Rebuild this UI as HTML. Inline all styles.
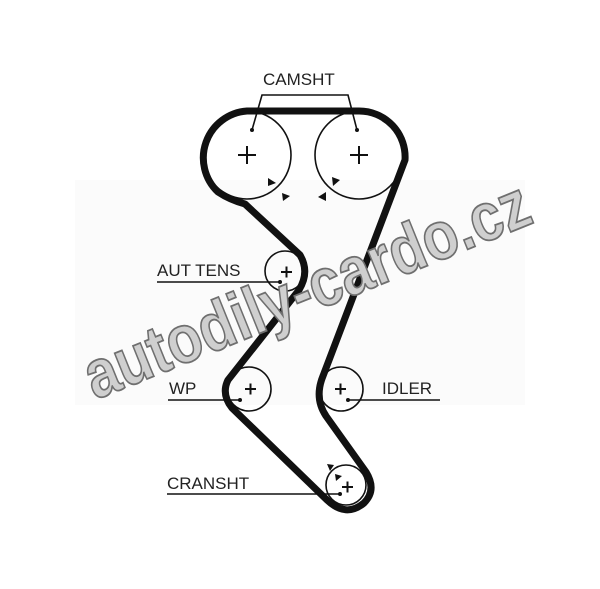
<!DOCTYPE html>
<html><head><meta charset="utf-8"><style>
html,body{margin:0;padding:0;background:#fff;}
svg{display:block;}
text{font-family:"Liberation Sans",Arial,sans-serif;}
</style></head><body>
<svg width="600" height="589" viewBox="0 0 600 589" xmlns="http://www.w3.org/2000/svg">
<rect x="75" y="180" width="450" height="225" fill="#fbfbfb"/>
<g fill="none" stroke="#111" stroke-width="1.6">
<circle cx="247" cy="155" r="44"/>
<circle cx="359" cy="155" r="44"/>
<circle cx="285" cy="271" r="20"/>
<circle cx="249" cy="389" r="22"/>
<circle cx="341" cy="389" r="22"/>
<circle cx="346" cy="485" r="20"/>
</g>
<path d="M247 111 L359 111 A46 46 0 0 1 405 160 L323 376 Q314 398 326 416 L366 472 Q377 490 364 503 Q346 518 327 500 L232 408 Q221 394 228 380 L299 290 Q310 272 300 255 L245 204 Q230 200 218 192 A47 47 0 0 1 247 111 Z" fill="none" stroke="#111" stroke-width="7" stroke-linejoin="round"/>
<g stroke="#111" stroke-width="2">
<path d="M238 155h18M247 146v18"/>
<path d="M350 155h18M359 146v18"/>
<path d="M281 272h11M286.5 266.5v11"/>
<path d="M245 389h11M250.5 383.5v11"/>
<path d="M335 389h11M340.5 383.5v11"/>
<path d="M342 487h11M347.5 481.5v11"/>
</g>
<g fill="#111">
<polygon points="268,178 276,183 268,186"/>
<polygon points="282,193 290,196 283,201"/>
<polygon points="332,177 340,180 333,186"/>
<polygon points="318,197 326,192 326,201"/>
<polygon points="327,464 334,465 330,471"/>
<polygon points="335,474 342,476 336,481"/>
</g>
<g stroke="#111" stroke-width="1.6" fill="none">
<path d="M252 130 L262 95 L348 95 L357 130"/>
<path d="M157 282 L280 282"/>
<path d="M168 400 L240 400"/>
<path d="M348 400 L440 400"/>
<path d="M167 494 L340 494"/>
</g>
<g fill="#111">
<circle cx="252" cy="130" r="2"/><circle cx="357" cy="130" r="2"/>
<circle cx="280" cy="282" r="2"/><circle cx="240" cy="400" r="2"/>
<circle cx="348" cy="400" r="2"/><circle cx="340" cy="494" r="2"/>
</g>
<g fill="#222" font-size="17">
<text x="263" y="85">CAMSHT</text>
<text x="157" y="276">AUT TENS</text>
<text x="169" y="394">WP</text>
<text x="382" y="394">IDLER</text>
<text x="167" y="489">CRANSHT</text>
</g>
<text x="0" y="0" transform="translate(95 400) rotate(-22)" font-size="68" font-weight="bold" fill="#cfcfcf" stroke="#6f6f6f" stroke-width="1.8" textLength="475" lengthAdjust="spacingAndGlyphs">autodily-cardo.cz</text>
</svg>
</body></html>
